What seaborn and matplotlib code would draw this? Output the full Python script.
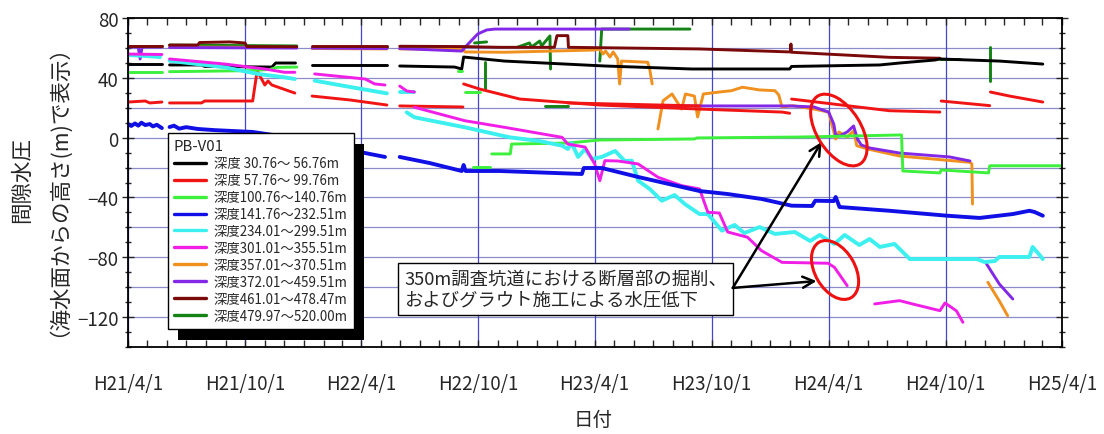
import numpy as np
import pandas as pd
import matplotlib
matplotlib.use("Agg")
import matplotlib.pyplot as plt
import matplotlib.dates as mdates
from matplotlib.ticker import MultipleLocator, FuncFormatter
from matplotlib.lines import Line2D
from matplotlib.patches import Ellipse, Rectangle
from matplotlib.transforms import Affine2D, ScaledTranslation, IdentityTransform
import seaborn as sns

# ---------------- data ----------------
labels = ["深度 30.76～ 56.76m", "深度 57.76～ 99.76m", "深度100.76～140.76m",
          "深度141.76～232.51m", "深度234.01～299.51m", "深度301.01～355.51m",
          "深度357.01～370.51m", "深度372.01～459.51m", "深度461.01～478.47m",
          "深度479.97～520.00m"]
colors = ["#000000", "#f01414", "#3cf03c", "#1010e6", "#3cf0f0",
          "#f01ee6", "#f0901e", "#8228e6", "#7a0a0a", "#148214"]

d030 = [
    [("2009-04-01", 49.2), ("2009-05-24", 49.2)],
    [("2009-06-05", 48.6), ("2009-07-25", 48.6), ("2009-07-30", 47.6), ("2009-11-12", 47.2),
     ("2009-11-18", 49.9), ("2009-12-19", 49.9)],
    [("2010-01-14", 48.6), ("2010-05-11", 48.6)],
    [("2010-05-31", 47.9), ("2010-08-25", 47.2), ("2010-09-05", 45.9), ("2010-09-08", 53.9),
     ("2010-11-11", 51.2), ("2011-04-17", 47.9), ("2011-08-31", 45.9), ("2012-01-31", 45.9),
     ("2012-02-03", 47.6), ("2012-06-20", 48.6), ("2012-07-21", 49.9), ("2012-09-14", 51.9),
     ("2012-09-22", 52.6), ("2012-12-24", 51.2), ("2013-03-02", 49.2)],
]
d057 = [
    [("2009-04-01", 23.8), ("2009-04-28", 24.5), ("2009-05-05", 23.2), ("2009-05-24", 23.8)],
    [("2009-06-05", 23.2), ("2009-07-25", 23.2), ("2009-07-30", 24.5), ("2009-10-13", 24.5),
     ("2009-10-20", 44.6), ("2009-10-27", 39.2), ("2009-11-01", 35.2), ("2009-11-06", 37.9),
     ("2009-11-12", 35.2), ("2009-12-18", 29.8)],
    [("2010-01-14", 27.8), ("2010-03-14", 25.2), ("2010-05-11", 21.8)],
    [("2010-05-31", 21.2), ("2010-09-07", 20.5)],
    [("2010-09-08", 35.9), ("2010-10-03", 32.5), ("2010-12-05", 25.8), ("2011-04-09", 21.8),
     ("2011-09-12", 19.1), ("2012-01-19", 17.1), ("2012-01-31", 16.3)],
    [("2011-02-18", 23.2), ("2011-07-12", 21.8), ("2011-09-12", 21.2)],
    [("2012-02-03", 25.8), ("2012-07-05", 18.0), ("2012-09-22", 17.1)],
    [("2012-09-24", 24.5), ("2012-12-09", 21.4)],
    [("2012-12-10", 30.5), ("2013-01-09", 27.8), ("2013-03-02", 23.8)],
]
d100 = [
    [("2009-04-01", 43.7), ("2009-05-24", 43.7)],
    [("2009-06-05", 44.1), ("2009-10-09", 44.8), ("2009-11-09", 45.6), ("2009-11-20", 47.0),
     ("2009-12-21", 47.2)],
    [("2010-08-30", 44.6), ("2010-09-05", 44.6)],
    [("2010-09-10", 30.5), ("2010-10-03", 30.5)],
    [("2010-09-22", -19.6), ("2010-10-19", -19.6)],
    [("2010-10-22", -10.9), ("2010-11-20", -10.9), ("2010-11-22", -4.3), ("2011-02-18", -3.6),
     ("2011-04-09", -1.6), ("2011-09-04", -0.9), ("2011-09-08", -0.2), ("2012-02-16", 0.4),
     ("2012-07-24", 1.8), ("2012-07-26", -22.3), ("2012-09-22", -23.6), ("2012-09-24", -21.6),
     ("2012-12-07", -23.6), ("2012-12-09", -18.8), ("2013-04-01", -18.8)],
]
d141 = [
    [("2009-04-01", 9.1), ("2009-04-06", 7.8), ("2009-04-12", 9.5), ("2009-04-17", 8.0),
     ("2009-04-22", 10.0), ("2009-04-28", 8.4), ("2009-05-05", 9.1), ("2009-05-10", 7.5),
     ("2009-05-16", 8.6), ("2009-05-24", 6.4)],
    [("2009-06-05", 7.1), ("2009-06-12", 8.0), ("2009-06-20", 6.0), ("2009-07-01", 7.0),
     ("2009-07-19", 5.8), ("2009-08-15", 5.0), ("2009-10-13", 3.8), ("2009-12-26", -0.9),
     ("2010-03-22", -8.9), ("2010-04-14", -10.9), ("2010-05-08", -12.9)],
    [("2010-05-31", -12.9), ("2010-07-17", -17.0), ("2010-09-05", -22.3), ("2010-09-08", -18.3),
     ("2010-09-11", -22.3), ("2010-11-03", -22.3), ("2011-03-12", -24.3), ("2011-03-15", -20.3),
     ("2011-04-12", -20.3), ("2011-06-08", -26.3), ("2011-09-12", -35.7), ("2011-10-26", -37.7),
     ("2011-12-18", -41.0), ("2012-02-03", -45.5), ("2012-03-06", -45.7), ("2012-03-11", -42.2),
     ("2012-04-09", -42.4), ("2012-04-12", -39.7), ("2012-04-18", -46.4), ("2012-07-05", -48.9),
     ("2012-10-03", -52.2), ("2012-11-23", -53.7), ("2013-01-14", -51.1), ("2013-02-09", -48.9),
     ("2013-02-17", -49.7), ("2013-03-02", -52.2)],
]
d234 = [
    [("2009-04-01", 55.3), ("2009-04-28", 54.6), ("2009-05-21", 53.9)],
    [("2009-06-05", 51.4), ("2009-08-31", 47.0), ("2009-10-21", 42.6), ("2009-12-02", 40.3),
     ("2009-12-18", 39.2)],
    [("2010-01-18", 38.1), ("2010-03-14", 33.9), ("2010-05-11", 29.6)],
    [("2010-05-31", 30.3), ("2010-06-23", 30.3)],
    [("2010-06-11", 16.9), ("2010-06-23", 13.6), ("2010-09-10", 6.9), ("2010-11-19", 0.2),
     ("2011-01-05", -2.3), ("2011-02-09", -5.4), ("2011-02-18", -7.6), ("2011-02-24", -3.6),
     ("2011-03-06", -12.9), ("2011-03-17", -7.6), ("2011-03-28", -14.3), ("2011-04-12", -12.9),
     ("2011-05-03", -8.9), ("2011-05-18", -15.6), ("2011-05-29", -15.4), ("2011-06-08", -28.8),
     ("2011-06-26", -34.3), ("2011-07-15", -42.2), ("2011-08-04", -38.4), ("2011-08-20", -44.4),
     ("2011-09-12", -51.1), ("2011-09-25", -51.1), ("2011-10-17", -62.2), ("2011-11-06", -58.4),
     ("2011-11-21", -63.8), ("2011-12-15", -59.8), ("2012-01-08", -64.4), ("2012-02-08", -63.1),
     ("2012-03-03", -69.1), ("2012-03-18", -65.1), ("2012-04-10", -71.1), ("2012-04-26", -65.1),
     ("2012-05-19", -71.8), ("2012-06-04", -67.8), ("2012-06-20", -73.1), ("2012-07-13", -71.1),
     ("2012-08-06", -81.2), ("2012-11-19", -81.2), ("2012-12-01", -83.2), ("2012-12-17", -82.5),
     ("2012-12-24", -79.8), ("2013-02-09", -79.8), ("2013-02-14", -73.1), ("2013-02-25", -78.5),
     ("2013-03-02", -81.2)],
]
d301 = [
    [("2009-04-01", 55.9), ("2009-05-24", 55.6)],
    [("2009-06-05", 52.6), ("2009-08-31", 49.2), ("2009-11-01", 45.9), ("2009-12-02", 43.7),
     ("2009-12-18", 43.7)],
    [("2010-01-18", 42.6), ("2010-04-07", 39.2), ("2010-04-22", 35.9), ("2010-05-08", 35.2)],
    [("2010-05-31", 34.5), ("2010-06-11", 31.2), ("2010-06-23", 30.5)],
    [("2010-06-23", 20.3), ("2010-09-10", 11.3), ("2010-11-11", 6.9), ("2011-02-09", 0.2),
     ("2011-02-18", -4.3), ("2011-03-17", -6.3), ("2011-04-01", -17.6), ("2011-04-09", -28.8),
     ("2011-04-17", -15.4), ("2011-05-07", -15.6), ("2011-06-08", -17.6), ("2011-07-09", -26.5),
     ("2011-08-15", -32.1), ("2011-09-12", -34.3), ("2011-09-25", -49.9), ("2011-10-13", -50.4),
     ("2011-10-26", -63.1), ("2011-11-26", -66.6), ("2011-12-18", -75.6), ("2012-01-19", -83.4),
     ("2012-03-31", -84.0), ("2012-04-10", -86.7), ("2012-04-30", -99.0)],
    [("2012-06-12", -111.2), ("2012-07-21", -109.0), ("2012-08-10", -111.2), ("2012-09-22", -115.7),
     ("2012-09-30", -110.6), ("2012-10-07", -112.6), ("2012-10-18", -115.9), ("2012-10-28", -123.5)],
]
d357 = [
    [("2009-04-01", 61.5), ("2009-05-24", 61.5)],
    [("2009-06-05", 60.6), ("2009-12-21", 60.3)],
    [("2010-01-14", 59.6), ("2010-05-11", 59.3)],
    [("2010-05-31", 59.3), ("2010-09-07", 59.3), ("2010-09-10", 57.3), ("2010-11-11", 57.1),
     ("2011-04-01", 58.6), ("2011-04-09", 59.3), ("2011-04-14", 55.9), ("2011-04-18", 57.9),
     ("2011-04-25", 53.9), ("2011-04-30", 57.3), ("2011-05-07", 52.6), ("2011-05-10", 35.9),
     ("2011-05-13", 51.2), ("2011-06-23", 50.4), ("2011-06-26", 45.9), ("2011-06-30", 35.9)],
    [("2011-07-09", 5.8), ("2011-07-17", 24.7), ("2011-07-31", 29.2), ("2011-08-15", 19.1),
     ("2011-08-21", 29.2), ("2011-09-04", 27.8), ("2011-09-09", 13.8), ("2011-09-18", 29.2),
     ("2011-10-13", 30.5), ("2011-11-01", 31.4), ("2011-11-18", 33.7), ("2011-12-15", 31.9),
     ("2012-01-08", 31.4), ("2012-01-14", 28.5), ("2012-01-19", 20.5), ("2012-02-05", 21.4),
     ("2012-03-09", 19.1), ("2012-04-01", 17.1), ("2012-04-12", -0.9), ("2012-04-17", 3.8),
     ("2012-04-30", 0.4), ("2012-05-10", 4.6), ("2012-05-15", -5.4), ("2012-06-01", -7.6),
     ("2012-07-21", -12.3), ("2012-11-08", -16.5), ("2012-11-11", -17.6), ("2012-11-12", -44.4)],
    [("2012-12-06", -96.7), ("2012-12-24", -109.2), ("2013-01-06", -119.1)],
]
d372 = [
    [("2009-04-01", 60.6), ("2009-04-17", 60.6), ("2009-04-20", 52.6), ("2009-04-23", 60.6),
     ("2009-05-24", 60.6)],
    [("2009-06-05", 60.3), ("2009-12-21", 59.9)],
    [("2010-01-14", 59.9), ("2010-05-11", 59.6)],
    [("2010-05-31", 59.6), ("2010-09-05", 57.9), ("2010-09-15", 62.6), ("2010-09-30", 69.3),
     ("2010-10-14", 72.0), ("2010-10-27", 72.6), ("2011-05-25", 72.6)],
    [("2011-07-12", 21.2), ("2012-01-31", 21.2), ("2012-03-09", 20.5), ("2012-04-01", 17.1),
     ("2012-04-09", 9.1), ("2012-04-12", 1.8), ("2012-04-18", 1.1), ("2012-04-30", 3.8),
     ("2012-05-10", 7.8), ("2012-05-16", -0.9), ("2012-05-22", -4.9), ("2012-06-04", -6.9),
     ("2012-07-21", -10.3), ("2012-10-07", -12.9), ("2012-11-08", -15.6)],
    [("2012-12-04", -84.5), ("2012-12-24", -97.9), ("2013-01-14", -107.9)],
]
d461 = [
    [("2009-04-01", 61.5), ("2009-05-24", 61.5)],
    [("2009-06-05", 61.9), ("2009-07-19", 61.9), ("2009-07-22", 63.6), ("2009-09-07", 64.0),
     ("2009-10-01", 63.3), ("2009-10-04", 60.9), ("2009-12-21", 60.8)],
    [("2010-01-14", 61.1), ("2010-05-11", 61.1)],
    [("2010-05-31", 61.1), ("2010-09-07", 60.9), ("2010-11-03", 60.4), ("2011-01-28", 60.4),
     ("2011-02-01", 68.2), ("2011-02-18", 68.2), ("2011-02-19", 60.4), ("2011-09-12", 59.3),
     ("2012-02-01", 57.3), ("2012-02-02", 62.6), ("2012-02-03", 57.1), ("2012-07-05", 53.7),
     ("2012-09-22", 53.1)],
]
d479 = [
    [("2009-04-01", 61.3), ("2009-05-24", 61.3)],
    [("2009-06-05", 61.9), ("2009-12-21", 61.3)],
    [("2010-01-14", 60.9), ("2010-05-11", 60.9)],
    [("2010-05-31", 60.9), ("2010-09-07", 60.9)],
    [("2010-09-25", 63.3), ("2010-10-14", 64.0)],
    [("2010-10-11", 50.6), ("2010-10-11", 32.5)],
    [("2010-12-02", 60.6), ("2010-12-20", 63.3), ("2010-12-23", 60.6), ("2011-01-05", 64.6),
     ("2011-01-08", 61.3), ("2011-01-21", 68.0), ("2011-01-22", 45.9)],
    [("2011-01-14", 21.4), ("2011-02-18", 21.4)],
    [("2011-04-09", 51.2), ("2011-04-12", 72.6), ("2011-08-28", 72.6)],
    [("2012-09-22", 52.6), ("2012-10-23", 52.6)],
    [("2012-12-09", 60.6), ("2012-12-09", 37.9)],
]
series_data = [d030, d057, d100, d141, d234, d301, d357, d372, d461, d479]

# ---------------- build long table ----------------
rows = []
for lab, segs in zip(labels, series_data):
    for k, seg in enumerate(segs):
        for d, v in seg:
            rows.append((lab, k, pd.Timestamp(d), v))
df = pd.DataFrame(rows, columns=["series", "seg", "date", "value"])

# ---------------- style ----------------
sns.set_style("ticks")
plt.rcParams["font.family"] = ["Noto Sans CJK JP", "DejaVu Sans"]
plt.rcParams["axes.unicode_minus"] = True

fig = plt.figure(figsize=(11.04, 4.35), dpi=100)
ax = fig.add_axes([128 / 1104, 1 - 348 / 435, 934 / 1104, 329 / 435])

draw_order = [9, 6, 7, 8, 0, 1, 2, 4, 5, 3]
widths = {3: 2.8, 4: 2.8}
for i in draw_order:
    sub = df[df["series"] == labels[i]]
    sns.lineplot(data=sub, x="date", y="value", units="seg", estimator=None, sort=False,
                 color=colors[i], lw=widths.get(i, 2.1), legend=False, ax=ax, zorder=2)

ax.set_xlim(pd.Timestamp("2009-04-01"), pd.Timestamp("2013-04-01"))
ax.set_ylim(-140, 80)
ax.set_xlabel("")
ax.set_ylabel("")

ax.xaxis.set_major_locator(mdates.MonthLocator(bymonth=[4, 10]))
ax.xaxis.set_minor_locator(mdates.MonthLocator())


def heisei(x, pos):
    d = mdates.num2date(x)
    return f"H{d.year - 1988}/{d.month}/{d.day}"


ax.xaxis.set_major_formatter(FuncFormatter(heisei))
ax.yaxis.set_major_locator(MultipleLocator(40))
ax.yaxis.set_minor_locator(MultipleLocator(10))

ax.tick_params(axis="x", which="both", direction="in", length=5, width=1,
               top=True, bottom=True, pad=19, labelsize=13.5)
ax.tick_params(axis="y", which="major", direction="inout", length=8, width=1,
               left=True, right=True, pad=3, labelsize=13.5)
ax.tick_params(axis="y", which="minor", direction="inout", length=5, width=1,
               left=True, right=True)
for s in ax.spines.values():
    s.set_linewidth(1.3)
    s.set_color("black")

# grid
ax.grid(False)
for gy in np.arange(-120, 80, 20):
    ax.axhline(gy, color="#8c8cc8", lw=0.9, zorder=0.5)
ax.grid(True, axis="x", which="major", color="#4646c8", lw=0.9, zorder=0.5)
ax.set_axisbelow(True)

# axis titles
fig.text(35 / 1104, 1 - 180 / 435, "間隙水圧\n（海水面からの高さ(m)で表示）",
         rotation=90, ha="center", va="center", multialignment="center",
         fontsize=15.5, linespacing=1.2)
fig.text(593 / 1104, 1 - 421 / 435, "日付", ha="center", va="center", fontsize=14)

# legend
handles = [Line2D([], [], color=c, lw=2.4) for c in colors]
leg = ax.legend(handles, labels, title="PB-V01", loc="upper left",
                bbox_to_anchor=(0.0428, 0.649), borderaxespad=0, frameon=True,
                fancybox=False, framealpha=1, edgecolor="black", fontsize=9.6,
                title_fontsize=10.8, alignment="left", handlelength=2.4,
                handletextpad=0.6, labelspacing=0.22, borderpad=0.45)
leg.get_frame().set_linewidth(1.0)
leg.set_zorder(6)

# annotation box and arrows
ax.text(pd.Timestamp("2010-06-07"), -101.2,
        "350m調査坑道における断層部の掘削、\nおよびグラウト施工による水圧低下",
        ha="left", va="center", fontsize=13.2, linespacing=1.25, zorder=7,
        bbox=dict(boxstyle="square,pad=0.35", fc="white", ec="black", lw=1.0))
arrow_start = (mdates.date2num(pd.Timestamp("2011-11-03")), -100.5)
for tip in [("2012-03-21", -2.9), ("2012-03-13", -95.9)]:
    ax.annotate("", xy=(mdates.date2num(pd.Timestamp(tip[0])), tip[1]), xytext=arrow_start,
                arrowprops=dict(arrowstyle="->", lw=1.8, color="black", mutation_scale=20,
                                shrinkA=0, shrinkB=0), zorder=8)

# red ellipses (sizes in pixels, anchored at data points)
for cdate, cval, w, h, ang in [("2012-04-17", 5.1, 80, 44, -58), ("2012-04-11", -88.5, 64, 40, -60)]:
    tr = Affine2D() + ScaledTranslation(mdates.date2num(pd.Timestamp(cdate)), cval, ax.transData)
    e = Ellipse((0, 0), w, h, angle=ang, transform=tr, fill=False, ec="#ee1111", lw=2.2, zorder=9)
    ax.add_artist(e)

# legend shadow
fig.canvas.draw()
bb = leg.get_window_extent()
shadow = Rectangle((bb.x0 + 10, bb.y0 - 11), bb.width, bb.height, transform=IdentityTransform(),
                   fc="black", ec="none", zorder=5.5)
ax.add_artist(shadow)

fig.savefig("out.png", dpi=100)
